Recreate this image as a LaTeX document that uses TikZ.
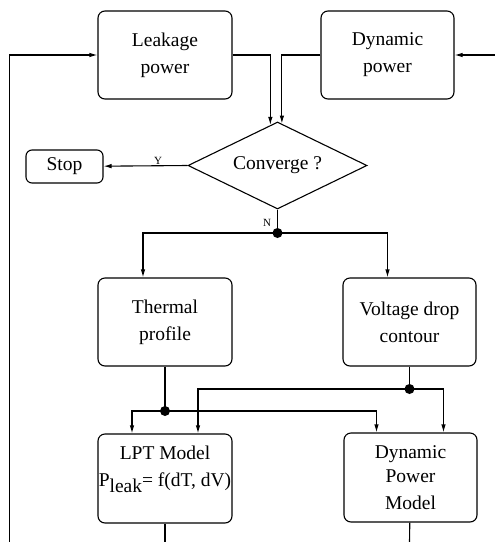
\documentclass[tikz,border=0pt]{standalone}
\usepackage{fontspec}
\setmainfont{Liberation Serif}
\usetikzlibrary{shapes.geometric,arrows.meta}
\tikzset{
  block/.style={draw, rounded corners=7pt, align=center, inner sep=0pt,
    minimum width=134pt, minimum height=88pt, font=\fontsize{19.5}{27}\selectfont},
  decision/.style={draw, diamond, aspect=2, inner sep=0pt,
    minimum width=179pt, minimum height=87pt, font=\fontsize{19.5}{27}\selectfont},
  tag/.style={font=\fontsize{11}{13}\selectfont, inner sep=1pt}
}
\begin{document}
\begin{tikzpicture}[x=1pt, y=-1pt, line width=1.1pt, >={Latex[length=8pt,width=4.5pt]}]
      \useasboundingbox (0,0) rectangle (495,542);
      % blocks
      \node[block] (leak) at (165,55) {Leakage\\power};
      \node[block, minimum width=133pt] (dyn) at (387.5,55) {Dynamic\\power};
      \node[decision] (conv) at (277.5,165.5) {Converge ?};
      \node[block, minimum width=77pt, minimum height=33pt, rounded corners=6pt] (stop) at (64.5,166.5) {Stop};
      \node[block] (therm) at (165,322) {Thermal\\profile};
      \node[block, minimum width=133pt] (volt) at (409.5,322) {Voltage drop\\contour};
      \node[block, minimum height=89pt, text depth=24pt] (lpt) at (165,478.5) {LPT Model\\P\raisebox{-0.6ex}{leak}= f(dT, dV)};
      \node[block, minimum width=133pt, minimum height=89pt] (dpm) at (410.5,477.5) {Dynamic\\[-3pt]Power\\Model};
      % junctions and loose ends
      \coordinate (nj) at (277.5,233);
      \coordinate (tj) at (165,411);
      \coordinate (vj) at (409.5,389);
      \coordinate (fbl) at (9.5,542);
      \coordinate (fbr) at (495,55);
      \coordinate (lpto) at (165,542);
      \coordinate (dpmo) at (409.5,542);
      % feedback lines
      \draw[->] (fbl) |- (leak);
      \draw[->] (fbr) -- (dyn);
      \draw (lpt) -- (lpto);
      \draw (dpm) -- (dpmo);
      % into the test
      \draw[->] (leak.east) -| (conv.100);
      \draw[->] (dyn.west) -| (conv.84);
      \draw[->] (conv.west) -- node[tag, above, pos=0.35] {Y} (stop);
      \draw (conv.south) -- node[tag, left=5pt, pos=0.55] {N} (nj);
      \draw[->] (nj) -| ([xshift=-22pt]therm.north);
      \draw[->] (nj) -| ([xshift=-22pt]volt.north);
      % into the models
      \draw (therm) -- (tj);
      \draw[->] (tj) -| ([xshift=-33pt]lpt.north);
      \draw[->] (tj) -| ([xshift=-34pt]dpm.north);
      \draw (volt) -- (vj);
      \draw[->] (vj) -| ([xshift=33pt]lpt.north);
      \draw[->] (vj) -| ([xshift=33pt]dpm.north);
      \foreach \j in {nj,tj,vj}
        \fill (\j) circle (5pt);
    \end{tikzpicture}
\end{document}
